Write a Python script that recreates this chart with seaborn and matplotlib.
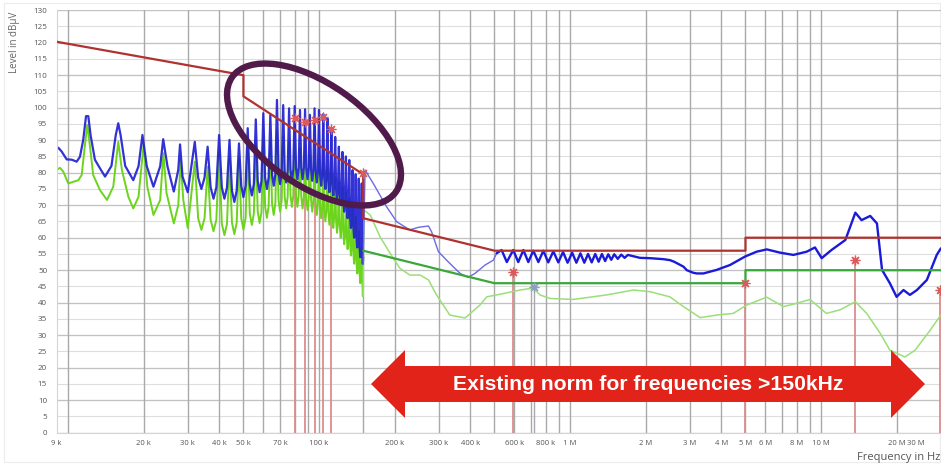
import numpy as np
import pandas as pd
import matplotlib
matplotlib.use("Agg")
import matplotlib.pyplot as plt
import matplotlib.transforms as mtransforms
from matplotlib.ticker import NullFormatter
from matplotlib.patches import Ellipse, Polygon, Rectangle
import seaborn as sns

# ---------------- data ----------------
# low-frequency detail 9 kHz .. 30 kHz
blue_low_khz = [9.0, 9.15, 9.44, 9.88, 10.35, 10.83, 11.16, 11.5, 11.8, 12.05, 12.3, 12.8, 13.4, 14.05,
                14.9, 15.5, 15.86, 16.2, 16.9, 18.2, 19.1, 19.8, 20.6, 21.9, 23.3, 23.95, 24.9, 26.4,
                27.5, 27.95, 28.6, 30.0]
blue_low_db = [87.0, 87.7, 86.5, 84.1, 84.0, 83.4, 84.9, 90.1, 97.4, 97.4, 91.6, 84.0, 81.4, 78.8,
               82.1, 91.6, 95.2, 91.6, 82.1, 77.7, 82.0, 91.6, 82.0, 75.7, 82.0, 90.3, 82.0, 74.2,
               80.9, 88.7, 78.8, 74.0]
green_low_khz = [9.0, 9.29, 9.58, 10.03, 10.5, 11.0, 11.34, 11.7, 11.94, 12.24, 12.6, 13.4, 14.3,
                 15.15, 15.86, 16.4, 17.4, 18.2, 19.1, 20.0, 20.7, 21.9, 23.3, 24.0, 24.7, 26.4,
                 27.5, 28.1, 28.8, 30.0]
green_low_db = [80.8, 81.5, 80.3, 76.7, 77.2, 77.7, 79.3, 89.0, 94.7, 88.0, 79.3, 74.7, 71.6,
                75.7, 89.5, 80.8, 72.6, 69.0, 72.6, 88.5, 75.7, 67.0, 71.6, 86.0, 73.7, 64.4,
                70.0, 83.8, 71.6, 63.0]

# harmonic spikes 32 kHz .. 148 kHz; between two spikes: shoulder, valley, shoulder
harm_khz = [32, 36, 40, 44, 48, 52, 56, 60, 64, 68, 72, 76, 80, 84, 88, 92, 96, 100, 104, 108,
            112, 116, 120, 124, 128, 132, 136, 140, 144, 148]
shoulder_a_khz = [33, 37, 41, 45, 49, 53, 57, 61, 65, 69, 73, 77, 81, 85, 89, 93, 97, 101, 105, 109,
                  113, 117, 121, 125, 129, 133, 137, 141, 145, 149]
valley_khz = [34, 38, 42, 46, 50, 54, 58, 62, 66, 70, 74, 78, 82, 86, 90, 94, 98, 102, 106, 110,
              114, 118, 122, 126, 130, 134, 138, 142, 146, 149.5]
shoulder_b_khz = [35, 39, 43, 47, 51, 55, 59, 63, 67, 71, 75, 79, 83, 87, 91, 95, 99, 103, 107, 111,
                  115, 119, 123, 127, 131, 135, 139, 143, 147, 150]
blue_peak_db = [89.5, 88.0, 91.6, 90.1, 89.0, 93.7, 96.4, 98.3, 97.8, 102.4, 100.8, 99.8, 100.5,
                99.3, 99.5, 97.8, 99.8, 99.3, 98.0, 96.7, 93.7, 91.0, 88.0, 86.4, 85.0, 83.9,
                80.8, 79.5, 78.2, 76.7]
blue_shoulder_db = [78.5, 75.5, 75.5, 74.5, 76.0, 76.5, 77.5, 78.5, 79.5, 80.0, 80.5, 81.0, 81.5,
                    81.5, 81.5, 81.0, 80.5, 79.5, 78.5, 77.5, 76.5, 75.0, 73.5, 71.5, 69.5, 66.5,
                    63.5, 60.5, 57.5, 54.0]
blue_valley_db = [75.0, 72.0, 72.0, 71.0, 72.5, 73.0, 74.0, 75.0, 76.0, 76.5, 77.0, 77.5, 78.0,
                  78.0, 78.0, 77.5, 77.0, 76.0, 75.0, 74.0, 73.0, 71.5, 70.0, 68.0, 66.0, 63.0,
                  60.0, 57.0, 54.0, 52.0]
green_peak_db = [83.4, 81.8, 86.5, 84.7, 84.5, 88.0, 89.0, 90.6, 90.0, 93.0, 91.0, 89.5, 88.5,
                 87.5, 86.5, 85.5, 85.0, 84.0, 83.0, 81.5, 80.0, 78.5, 77.0, 75.5, 74.0, 72.0,
                 69.5, 66.5, 62.0, 57.0]
green_shoulder_db = [66.0, 65.5, 64.3, 64.6, 66.0, 67.4, 68.0, 69.6, 70.5, 71.5, 72.5, 73.0, 73.0,
                     72.5, 72.0, 71.5, 70.5, 69.5, 68.5, 67.5, 66.5, 65.0, 63.5, 61.5, 60.0, 58.0,
                     55.5, 52.5, 49.5, 45.5]
green_valley_db = [62.4, 62.0, 60.8, 61.1, 62.5, 63.9, 64.5, 66.1, 67.0, 68.0, 69.0, 69.5, 69.5,
                   69.0, 68.5, 68.0, 67.0, 66.0, 65.0, 64.0, 63.0, 61.5, 60.0, 58.0, 56.5, 54.5,
                   52.0, 49.0, 46.0, 42.0]

# above 150 kHz
blue_mid_khz = [150, 152.6, 164.5, 186, 204, 230, 249, 273, 281, 299, 327, 365, 393, 418, 459, 495, 510]
blue_mid_db = [52.0, 80.8, 76.7, 69.5, 64.9, 62.4, 63.2, 63.6, 61.8, 55.7, 52.6, 49.0, 47.8, 49.0,
               51.6, 53.1, 55.2]
blue_hf_khz = [510, 534, 560, 594, 622, 652, 682, 714, 748, 783, 819, 858, 898, 938, 978, 1020,
               1060, 1100, 1140, 1180, 1220, 1260, 1300, 1340, 1380, 1420, 1460, 1500, 1550, 1600,
               1650, 1700, 1900, 2080, 2350, 2500, 2600, 2830, 2920, 3100, 3200, 3400, 3840, 4340,
               4980, 5540, 6080, 6870, 7760, 8770, 9460, 10060, 11000, 12500, 13700, 14500, 15700,
               16700, 17500, 18800, 20000, 21300, 22600, 24100, 26400, 28900, 30000]
blue_hf_db = [55.2, 56.2, 52.5, 56.2, 52.5, 56.2, 52.5, 56.0, 52.5, 56.0, 52.4, 55.8, 52.4, 55.6,
              52.3, 55.4, 52.3, 55.2, 52.3, 55.0, 52.4, 55.0, 52.6, 55.0, 52.8, 54.9, 53.2, 54.9,
              53.5, 54.8, 53.8, 54.7, 53.8, 53.7, 53.4, 53.1, 52.6, 51.1, 50.0, 49.2, 49.0, 49.0,
              50.1, 51.6, 54.2, 55.7, 56.4, 55.4, 54.7, 55.7, 57.0, 53.7, 56.2, 59.3, 67.7, 65.4,
              66.7, 64.4, 50.1, 46.0, 41.8, 43.9, 42.4, 43.9, 47.0, 54.7, 56.7]
green_mid_khz = [150, 151, 160, 175, 192, 210, 230, 253, 273, 294, 332, 382, 438, 466, 526, 632, 714,
                 759, 832, 1030, 1400, 1790, 2080, 2500, 2830, 3300, 3840, 4470, 5060, 6080, 7080,
                 8000, 9040, 10500, 11900, 13700, 15200, 17200, 18800, 21600, 23700, 27200, 30000]
green_mid_db = [42.0, 68.5, 67.0, 60.3, 55.2, 50.6, 48.5, 48.5, 47.0, 42.4, 36.2, 35.3, 39.3, 41.8,
                42.6, 43.9, 44.5, 42.4, 41.3, 41.0, 42.4, 43.9, 43.4, 41.8, 38.8, 35.4, 36.2, 36.7,
                39.3, 41.7, 38.8, 39.8, 41.0, 36.7, 37.8, 40.3, 36.7, 30.6, 25.4, 23.3, 25.4, 31.5,
                36.2]

# limit lines
qp_limit_khz = [9, 50, 50, 150, 150, 500, 5000, 5000, 30000]
qp_limit_db = [120.3, 110.0, 103.5, 79.5, 66.0, 56.0, 56.0, 60.0, 60.0]
av_limit_khz = [150, 500, 5000, 5000, 30000]
av_limit_db = [56.0, 46.0, 46.0, 50.0, 50.0]

# markers
red_marker_khz = [80, 88, 96, 104, 112, 594, 4970, 13700, 29900]
red_marker_db = [96.7, 95.7, 96.3, 97.0, 93.3, 49.5, 46.2, 53.0, 43.9]
gray_marker_khz = [150, 720]
gray_marker_db = [80.0, 44.9]
gray_marker_colors = ["#dc5a5a", "#8fa0b8"]

# axes ticks
x_tick_khz = [9, 20, 30, 40, 50, 70, 100, 200, 300, 400, 600, 800, 1000, 2000, 3000, 4000, 5000,
              6000, 8000, 10000, 20000, 30000]
x_tick_labels = ["9 k", "20 k", "30 k", "40 k", "50 k", "70 k", "100 k", "200 k", "300 k", "400 k",
                 "600 k", "800 k", "1 M", "2 M", "3 M", "4 M", "5 M", "6 M", "8 M", "10 M", "20 M", "30 M"]
x_grid_khz = [10, 20, 30, 40, 50, 60, 70, 80, 90, 100, 200, 300, 400, 500, 600, 700, 800, 900,
              1000, 2000, 3000, 4000, 5000, 6000, 7000, 8000, 9000, 10000, 20000, 30000]
y_ticks = [0, 5, 10, 15, 20, 25, 30, 35, 40, 45, 50, 55, 60, 65, 70, 75, 80, 85, 90, 95, 100,
           105, 110, 115, 120, 125, 130]
y_major = [0, 10, 20, 30, 40, 50, 60, 70, 80, 90, 100, 110, 120, 130]

# ---------------- build traces ----------------
def spiky(low_khz, low_db, pk_db, sh_db, vl_db):
    f = list(low_khz)
    d = list(low_db)
    for i, hk in enumerate(harm_khz):
        f += [hk, shoulder_a_khz[i], valley_khz[i], shoulder_b_khz[i]]
        d += [pk_db[i], sh_db[i], vl_db[i], sh_db[i]]
    return pd.DataFrame({"f": np.array(f) * 1e3, "db": d})

blue_dense = spiky(blue_low_khz, blue_low_db, blue_peak_db, blue_shoulder_db, blue_valley_db)
green_dense = spiky(green_low_khz, green_low_db, green_peak_db, green_shoulder_db, green_valley_db)
blue_mid = pd.DataFrame({"f": np.array(blue_mid_khz) * 1e3, "db": blue_mid_db})
blue_hf = pd.DataFrame({"f": np.array(blue_hf_khz) * 1e3, "db": blue_hf_db})
green_mid = pd.DataFrame({"f": np.array(green_mid_khz) * 1e3, "db": green_mid_db})
qp_lim = pd.DataFrame({"f": np.array(qp_limit_khz) * 1e3, "db": qp_limit_db})
av_lim = pd.DataFrame({"f": np.array(av_limit_khz) * 1e3, "db": av_limit_db})

# ---------------- figure ----------------
sns.set_style("white")
plt.rcParams["font.family"] = ["Open Sans", "DejaVu Sans"]

W, H = 941, 465
fig = plt.figure(figsize=(W / 100, H / 100), dpi=100)
ax = fig.add_axes([56.5 / W, 1 - 432.7 / H, 884.3 / W, 422.5 / H])
ax.set_xscale("log")

def line(df, color, lw, z, alpha=1.0):
    sns.lineplot(data=df, x="f", y="db", sort=False, estimator=None, ax=ax, color=color,
                 linewidth=lw, zorder=z, alpha=alpha)

# marker stems (behind traces)
ax.vlines(np.array(red_marker_khz) * 1e3, 0, red_marker_db, color="#dc8c8c", lw=1.3, zorder=1.5)
ax.vlines(np.array(gray_marker_khz) * 1e3, 0, gray_marker_db, color="#a8a8b0", lw=1.0, zorder=1.5)

line(green_dense, "#6cd41c", 1.4, 2.0)
line(blue_dense, "#1c1cd2", 1.6, 2.2, alpha=0.9)
line(green_mid, "#9adf78", 1.1, 2.0)
line(blue_mid, "#6b6be4", 1.0, 2.2)
line(blue_hf, "#1a1ad8", 1.7, 2.2)
line(qp_lim, "#b03230", 1.6, 3.0)
line(av_lim, "#39a83a", 1.6, 3.0)

ax.plot(np.array(red_marker_khz) * 1e3, red_marker_db, ls="none", marker=(8, 2, 0), ms=7,
        mew=0.9, color="#dc5a5a", zorder=3.5)
for fk, db, c in zip(gray_marker_khz, gray_marker_db, gray_marker_colors):
    ax.plot([fk * 1e3], [db], ls="none", marker=(8, 2, 0), ms=7, mew=0.9, color=c, zorder=3.6)

# axes styling
ax.set_xlim(9e3, 30e6)
ax.set_ylim(0, 130)
ax.set_xticks(np.array(x_tick_khz) * 1e3)
ax.set_xticklabels(x_tick_labels)
ax.set_xticks(np.array(x_grid_khz) * 1e3, minor=True)
ax.xaxis.set_minor_formatter(NullFormatter())
ax.set_yticks(y_ticks)
ax.set_yticklabels([str(v) for v in y_ticks])
ax.tick_params(axis="x", which="both", length=0, pad=5, labelsize=5.5, labelcolor="#555555")
ax.tick_params(axis="y", length=3.6, width=0.8, color="#cccccc", pad=3.2, labelsize=5.8,
               labelcolor="#555555")
ax.grid(False)
for v in y_ticks:
    ax.axhline(v, color="#dedede", lw=0.8, zorder=0.5)
for v in y_major:
    ax.axhline(v, color="#c2c2c2", lw=0.9, zorder=0.6)
for g in x_grid_khz:
    ax.axvline(g * 1e3, color="#a9a9a9", lw=1.0, zorder=0.7)
for s in ["top", "right"]:
    ax.spines[s].set_visible(False)
for s in ["left", "bottom"]:
    ax.spines[s].set_color("#d4d4d4")
    ax.spines[s].set_linewidth(0.8)
ax.set_xlabel("")
ax.set_ylabel("")

# last x label sits left of the edge
last = ax.get_xticklabels()[-1]
last.set_horizontalalignment("right")
last.set_transform(last.get_transform() + mtransforms.ScaledTranslation(-0.16, 0, fig.dpi_scale_trans))

fig.text(15 / W, 1 - 12 / H, "Level in dBµV", rotation=90, ha="center", va="top",
         fontsize=7, color="#666666")
fig.text(940 / W, 1 - 457 / H, "Frequency in Hz", ha="right", va="center", fontsize=8,
         color="#555555")

# ---------------- annotations ----------------
def P(x, y):
    return (x / W, 1 - y / H)

ell = Ellipse((314, H - 134.5), 200, 102, angle=-35, fill=False, edgecolor="#501a4a",
              linewidth=4.6, transform=mtransforms.IdentityTransform(), zorder=10)
fig.add_artist(ell)

arrow_px = [(371, 384), (405, 350), (405, 366), (891, 366), (891, 350), (925, 384),
            (891, 418), (891, 402), (405, 402), (405, 418)]
arrow = Polygon([P(x, y) for x, y in arrow_px], closed=True, facecolor="#e2231a",
                edgecolor="none", transform=fig.transFigure, zorder=10)
fig.add_artist(arrow)
fig.text(648 / W, 1 - 384 / H, "Existing norm for frequencies >150kHz", ha="center", va="center",
         color="white", fontsize=15.2, fontweight="bold", family=["Liberation Sans", "DejaVu Sans"],
         zorder=11)

fig.add_artist(Rectangle((4 / W, 1 - 462 / H), 936 / W, 459 / H, fill=False, edgecolor="#ececec",
                         lw=0.8, transform=fig.transFigure, zorder=0))

fig.savefig("out.png", dpi=100)
